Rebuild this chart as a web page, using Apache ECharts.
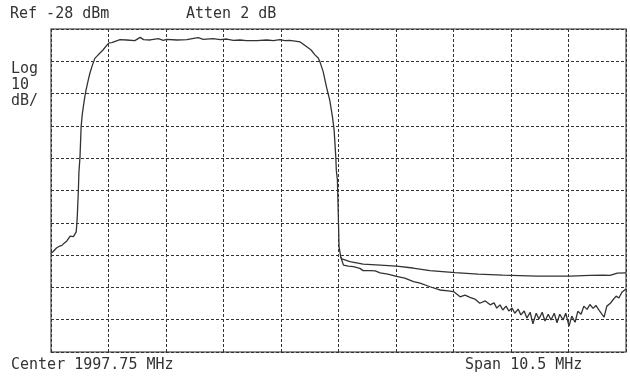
<!DOCTYPE html>
<html>
<head>
<meta charset="utf-8">
<script src="https://cdn.jsdelivr.net/npm/echarts@6/dist/echarts.min.js"></script>
<style>
  html, body { margin: 0; padding: 0; background: #fff; }
  #main { width: 630px; height: 379px; }
</style>
</head>
<body>
<div id="main"></div>
<script>
(function () {
  var REF = -28;        // dBm, top of screen
  var CENTER = 1997.75; // MHz
  var SPAN = 10.5;      // MHz
  var START = CENTER - SPAN / 2;

  // trace 1: passband + upper stopband line
  var trace1Freq = [
    1992.50, 1992.54, 1992.57, 1992.60, 1992.63, 1992.66, 1992.70, 1992.74, 1992.76, 1992.79,
    1992.81, 1992.85, 1992.87, 1992.88, 1992.91, 1992.93, 1992.96, 1992.97, 1992.98, 1993.00,
    1993.01, 1993.03, 1993.05, 1993.07, 1993.09, 1993.12, 1993.14, 1993.18, 1993.21, 1993.25,
    1993.30, 1993.34, 1993.39, 1993.45, 1993.52, 1993.56, 1993.61, 1993.64, 1993.76, 1993.88,
    1994.03, 1994.13, 1994.19, 1994.31, 1994.46, 1994.55, 1994.61, 1994.80, 1994.98, 1995.13,
    1995.19, 1995.28, 1995.46, 1995.59, 1995.71, 1995.83, 1995.95, 1996.07, 1996.26, 1996.44,
    1996.56, 1996.68, 1996.77, 1996.86, 1996.99, 1997.05, 1997.17, 1997.25, 1997.32, 1997.38,
    1997.41, 1997.47, 1997.53, 1997.59, 1997.64, 1997.67, 1997.70, 1997.71, 1997.73, 1997.75,
    1997.76, 1997.79, 1997.81, 1997.84, 1997.96, 1998.20, 1998.51, 1998.81, 1999.11, 1999.42,
    1999.88, 2000.30, 2000.75, 2001.37, 2001.98, 2002.34, 2002.58, 2002.71, 2002.84, 2003.00
  ];
  var trace1Level = [
    -97.4, -96.9, -96.4, -95.8, -96.0, -95.2, -95.0, -94.3, -94.4, -93.6,
    -93.3, -92.1, -92.6, -91.9, -92.3, -91.8, -90.8, -88.7, -86.1, -77.8,
    -72.3, -67.5, -58.3, -54.6, -52.1, -48.7, -46.9, -43.8, -41.7, -39.5,
    -37.1, -36.4, -35.5, -34.5, -33.0, -32.3, -32.2, -31.8, -31.3, -31.4,
    -31.6, -30.6, -31.3, -31.4, -31.0, -31.5, -31.2, -31.4, -31.3, -30.8,
    -30.7, -31.2, -31.0, -31.3, -31.1, -31.5, -31.4, -31.6, -31.6, -31.4,
    -31.6, -31.3, -31.6, -31.5, -31.8, -32.0, -33.5, -34.5, -36.0, -37.0,
    -38.1, -41.2, -45.9, -50.0, -55.2, -59.3, -67.5, -71.7, -74.8, -88.2,
    -95.4, -98.5, -99.2, -99.6, -100.0, -100.8, -101.1, -101.4, -102.0, -102.8,
    -103.4, -103.9, -104.2, -104.5, -104.5, -104.3, -104.2, -104.3, -103.6, -103.5
  ];

  // trace 2: lower stopband (noise floor)
  var trace2Freq = [
    1997.79, 1997.84, 1997.93, 1998.02, 1998.14, 1998.20, 1998.33, 1998.42, 1998.51, 1998.65,
    1998.81, 1998.96, 1999.12, 1999.24, 1999.42, 1999.60, 1999.75, 1999.85, 1999.97, 2000.06,
    2000.15, 2000.24, 2000.33, 2000.43, 2000.52, 2000.59, 2000.64, 2000.70, 2000.75, 2000.81,
    2000.86, 2000.92, 2000.97, 2001.03, 2001.08, 2001.14, 2001.19, 2001.25, 2001.30, 2001.36,
    2001.41, 2001.47, 2001.52, 2001.58, 2001.63, 2001.69, 2001.74, 2001.79, 2001.85, 2001.90,
    2001.96, 2002.01, 2002.07, 2002.12, 2002.18, 2002.23, 2002.29, 2002.34, 2002.40, 2002.45,
    2002.51, 2002.56, 2002.60, 2002.65, 2002.71, 2002.76, 2002.82, 2002.87, 2002.93, 2003.00
  ];
  var trace2Level = [
    -98.5, -101.1, -101.4, -101.6, -102.1, -102.8, -102.8, -102.9, -103.5, -103.9,
    -104.6, -105.1, -106.2, -106.7, -107.8, -108.8, -109.1, -109.3, -110.9, -110.4,
    -111.1, -111.6, -112.9, -112.2, -113.4, -112.8, -114.4, -113.4, -115.0, -113.8,
    -115.3, -114.4, -116.0, -114.7, -116.5, -115.3, -117.5, -115.7, -119.3, -116.0,
    -117.8, -115.7, -118.4, -116.3, -118.1, -116.0, -119.0, -116.3, -118.1, -116.0,
    -120.0, -116.9, -118.8, -115.4, -116.3, -113.8, -114.8, -113.3, -114.5, -113.6,
    -115.1, -116.3, -117.2, -113.8, -113.0, -111.9, -110.7, -111.3, -109.4, -108.5
  ];

  function toPoints(freq, level) {
    return freq.map(function (f, i) {
      return [+(f - START).toFixed(3), +(level[i] - REF).toFixed(2)];
    });
  }

  var myChart = echarts.init(document.getElementById('main'), null, { renderer: 'canvas' });
  var FONT = '15px "DejaVu Sans Mono", monospace';
  var gridLine = { show: true, lineStyle: { color: '#333', type: [3, 2], width: 1 } };
  var traceStyle = { color: '#333', width: 1.3 };

  var option = {
    animation: false,
    backgroundColor: '#fff',
    grid: {
      left: 51, top: 29, right: 4, bottom: 27,
      show: true, borderColor: '#6f6f6f', borderWidth: 1.5
    },
    xAxis: {
      type: 'value', min: 0, max: SPAN, interval: SPAN / 10,
      axisLine: { show: false }, axisTick: { show: false }, axisLabel: { show: false },
      splitLine: gridLine
    },
    yAxis: {
      type: 'value', min: -100, max: 0, interval: 10,
      axisLine: { show: false }, axisTick: { show: false }, axisLabel: { show: false },
      splitLine: gridLine
    },
    series: [
      {
        type: 'line', data: toPoints(trace1Freq, trace1Level),
        showSymbol: false, lineStyle: traceStyle, z: 3
      },
      {
        type: 'line', data: toPoints(trace2Freq, trace2Level),
        showSymbol: false, lineStyle: traceStyle, z: 3
      }
    ],
    graphic: [
      { type: 'text', left: 10, top: 7, style: { text: 'Ref ' + REF + ' dBm', font: FONT, fill: '#333' } },
      { type: 'text', left: 186, top: 7, style: { text: 'Atten 2 dB', font: FONT, fill: '#333' } },
      { type: 'text', left: 11, top: 61, style: { text: 'Log\n10\ndB/', font: FONT, lineHeight: 16, fill: '#333' } },
      { type: 'text', left: 11, top: 358, style: { text: 'Center ' + CENTER + ' MHz', font: FONT, fill: '#333' } },
      { type: 'text', left: 465, top: 358, style: { text: 'Span ' + SPAN + ' MHz', font: FONT, fill: '#333' } }
    ]
  };

  myChart.setOption(option);
})();
</script>
</body>
</html>
